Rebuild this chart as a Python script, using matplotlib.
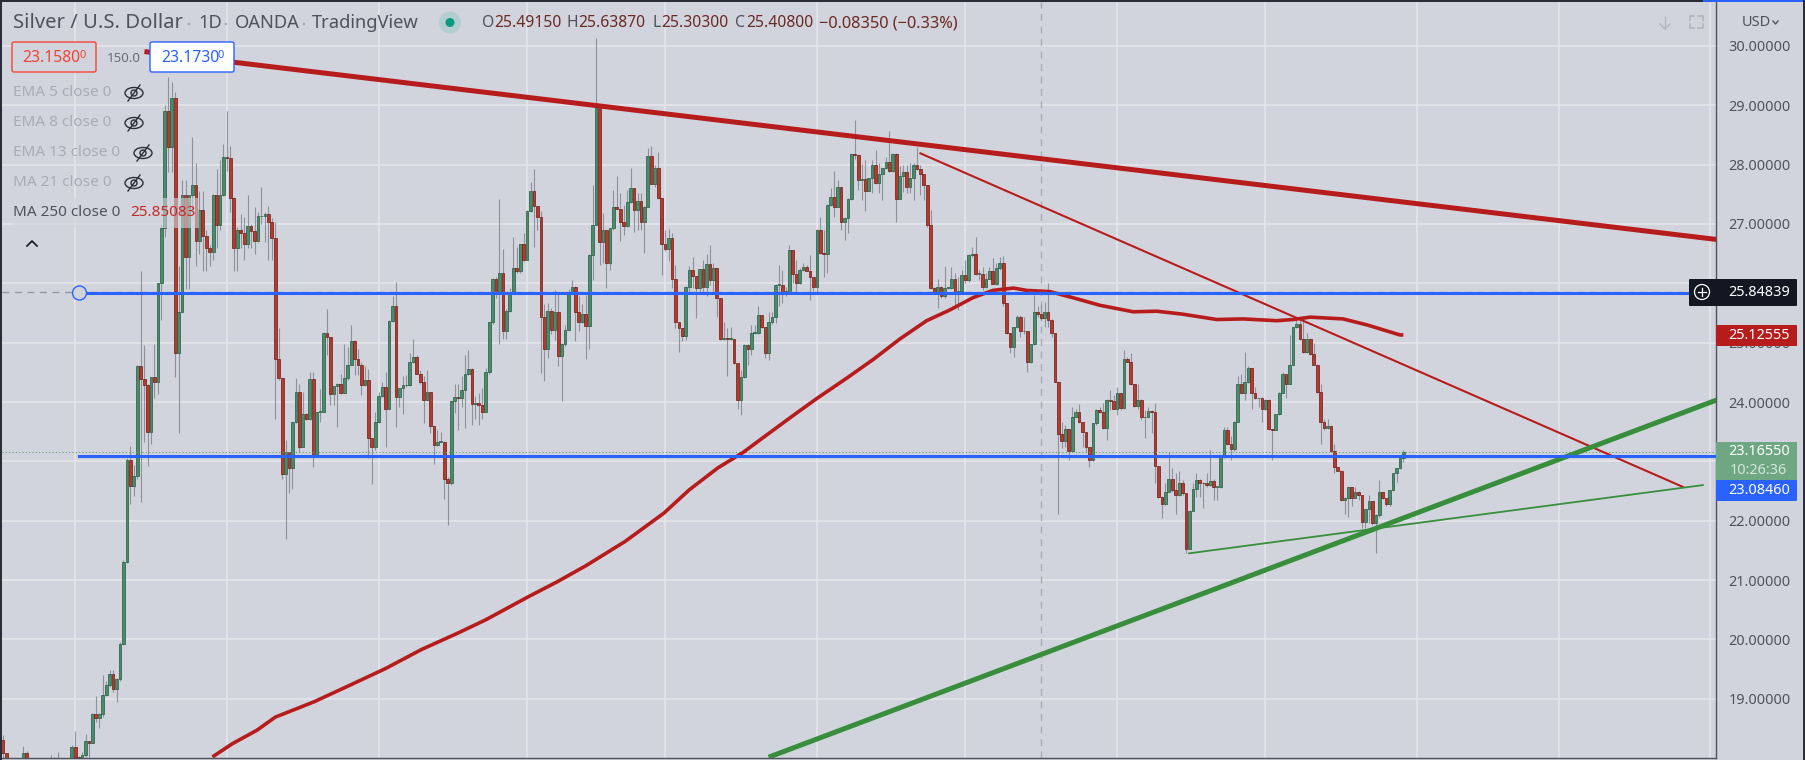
"""Silver / U.S. Dollar daily candles with hand drawn trend lines."""
import matplotlib
matplotlib.use('Agg')
import matplotlib.pyplot as plt
from matplotlib.patches import Circle, Ellipse, FancyBboxPatch, Rectangle

plt.rcParams['font.family'] = ['Noto Sans', 'DejaVu Sans']

first_open = 18.30
closes = [
    18.08, 18.01, 17.9, 17.9, 17.85, 17.95, 18.08, 17.95, 17.9, 17.85,
    17.8, 17.85, 17.9, 17.85, 17.9, 17.92, 17.95, 17.9, 17.85, 17.95,
    18.19, 18.02, 18.01, 18.05, 18.28, 18.26, 18.74, 18.67, 18.74, 19.07,
    19.23, 19.41, 19.17, 19.33, 19.92, 21.30, 23.02, 22.59, 22.76, 24.60,
    24.38, 24.28, 23.49, 24.42, 24.33, 26.00, 26.93, 28.90, 28.30, 29.13,
    24.82, 25.52, 27.48, 26.44, 27.48, 27.66, 26.71, 27.23, 26.79, 26.60,
    26.52, 27.48, 26.99, 27.49, 28.13, 28.11, 27.43, 26.60, 26.90, 26.85,
    26.67, 26.97, 26.88, 26.72, 27.13, 27.14, 27.16, 27.03, 26.77, 24.72,
    24.40, 22.78, 23.15, 22.88, 23.67, 24.17, 23.24, 23.79, 23.72, 24.38,
    23.07, 23.83, 23.84, 25.16, 25.10, 24.13, 24.27, 24.30, 24.16, 24.40,
    24.63, 25.03, 24.72, 24.62, 24.28, 24.37, 23.39, 23.25, 23.66, 24.10,
    24.25, 23.89, 25.36, 25.62, 24.08, 24.23, 24.28, 24.28, 24.67, 24.76,
    24.48, 24.33, 24.04, 24.17, 23.60, 23.27, 23.33, 23.33, 22.70, 22.63,
    24.01, 24.09, 24.06, 24.20, 24.48, 24.55, 23.97, 23.99, 23.95, 23.83,
    24.50, 25.34, 26.07, 25.86, 26.17, 25.19, 25.54, 25.86, 26.25, 26.20,
    26.67, 26.40, 27.22, 27.55, 27.30, 27.12, 25.44, 24.90, 25.54, 25.21,
    25.51, 24.78, 24.97, 25.22, 25.86, 25.94, 25.51, 25.34, 25.48, 25.28,
    26.47, 26.99, 29.02, 26.69, 26.90, 26.35, 26.93, 27.28, 27.26, 27.03,
    26.97, 27.37, 27.60, 27.23, 27.38, 27.03, 27.29, 28.15, 27.68, 27.94,
    27.43, 26.67, 26.57, 26.76, 26.08, 25.35, 25.24, 25.12, 25.94, 26.22,
    26.13, 25.92, 26.24, 25.94, 26.32, 26.06, 26.25, 25.75, 25.06, 25.08,
    25.06, 25.06, 24.65, 24.03, 24.42, 24.96, 24.89, 25.16, 25.16, 25.47,
    25.26, 24.82, 25.34, 25.43, 25.97, 25.97, 25.86, 25.86, 26.56, 26.15,
    26.00, 26.22, 26.27, 26.21, 26.10, 25.93, 26.90, 26.51, 26.49, 27.32,
    27.45, 27.29, 27.62, 27.03, 27.10, 27.42, 28.18, 28.17, 27.74, 27.75,
    27.56, 27.77, 27.99, 27.69, 27.84, 27.94, 28.04, 27.89, 28.18, 27.42,
    27.80, 27.88, 27.62, 27.77, 27.99, 27.92, 27.85, 27.66, 26.98, 25.92,
    25.86, 25.94, 25.78, 25.92, 25.92, 26.08, 25.86, 25.87, 26.14, 26.06,
    26.48, 26.49, 26.16, 26.16, 25.93, 26.08, 26.20, 25.99, 26.25, 26.34,
    25.67, 25.17, 24.93, 25.26, 25.43, 25.19, 25.19, 24.68, 24.97, 25.51,
    25.48, 25.41, 25.52, 25.39, 25.16, 24.34, 23.46, 23.35, 23.54, 23.18,
    23.75, 23.84, 23.66, 23.50, 23.25, 23.03, 23.64, 23.87, 23.84, 23.56,
    24.03, 24.02, 23.89, 24.15, 23.90, 24.72, 24.68, 24.31, 23.94, 24.04,
    23.74, 23.74, 23.85, 23.84, 22.92, 22.40, 22.28, 22.49, 22.70, 22.51,
    22.43, 22.63, 22.46, 21.53, 22.17, 22.54, 22.69, 22.63, 22.63, 22.60,
    22.67, 22.57, 22.57, 23.08, 23.53, 23.30, 23.20, 23.67, 24.30, 24.16,
    24.33, 24.57, 24.16, 24.06, 24.06, 23.89, 24.04, 23.54, 23.53, 23.79,
    24.16, 24.47, 24.31, 24.63, 25.26, 25.31, 25.07, 24.84, 25.07, 24.81,
    24.63, 24.17, 23.66, 23.56, 23.60, 23.17, 22.90, 22.84, 22.35, 22.39,
    22.56, 22.39, 22.49, 22.43, 21.97, 22.19, 22.33, 21.96, 22.10, 22.48,
    22.38, 22.28, 22.51, 22.80, 22.88, 23.06, 23.16,
]
highs = [
    18.39, 18.09, 17.95, 17.95, 17.95, 17.97, 18.20, 18.12, 17.95, 17.9,
    17.85, 17.9, 17.95, 17.9, 18.05, 18.02, 18.10, 17.95, 17.9, 17.97,
    18.22, 18.46, 18.03, 18.10, 18.40, 18.28, 18.76, 19.05, 18.76, 19.40,
    19.30, 19.48, 19.48, 19.35, 19.95, 21.33, 23.05, 23.26, 22.94, 24.62,
    26.21, 24.96, 24.30, 24.42, 24.98, 26.00, 27.00, 29.00, 29.48, 29.39,
    29.23, 26.29, 27.74, 27.74, 27.48, 28.46, 28.02, 27.56, 27.56, 26.90,
    26.65, 27.50, 27.93, 28.07, 28.35, 28.90, 28.31, 27.45, 26.95, 27.17,
    27.12, 27.48, 27.00, 27.29, 27.20, 27.62, 27.20, 27.31, 27.10, 27.04,
    25.24, 24.42, 23.36, 23.15, 23.67, 24.40, 24.31, 24.17, 23.82, 24.51,
    24.51, 23.84, 24.22, 25.18, 25.56, 25.10, 24.27, 24.32, 24.48, 24.98,
    24.92, 25.30, 25.05, 24.90, 24.68, 24.61, 24.56, 23.40, 23.84, 24.17,
    24.34, 24.50, 25.38, 25.79, 26.03, 24.24, 24.43, 24.46, 24.82, 25.07,
    24.79, 24.54, 24.43, 24.54, 24.17, 23.62, 23.53, 23.50, 23.34, 22.74,
    24.02, 24.31, 24.31, 24.43, 24.79, 24.87, 24.57, 24.10, 24.15, 24.23,
    24.57, 25.35, 26.09, 26.10, 27.42, 26.58, 25.56, 25.92, 26.78, 26.62,
    26.67, 26.84, 27.23, 27.70, 27.92, 27.30, 27.22, 25.65, 25.66, 25.58,
    25.89, 25.83, 25.00, 25.30, 25.90, 26.06, 25.95, 25.78, 25.65, 25.80,
    26.50, 27.66, 30.13, 29.02, 27.19, 26.90, 26.93, 27.58, 27.80, 27.53,
    27.32, 27.57, 27.95, 27.60, 27.52, 27.52, 27.30, 28.28, 28.32, 27.99,
    28.22, 27.43, 26.90, 26.91, 26.84, 26.31, 25.35, 25.24, 25.95, 26.29,
    26.45, 26.13, 26.24, 26.39, 26.49, 26.65, 26.34, 26.25, 25.75, 25.35,
    25.24, 25.27, 25.06, 24.65, 24.54, 24.97, 24.97, 25.30, 25.30, 25.62,
    25.47, 25.26, 25.52, 25.52, 25.98, 26.31, 26.22, 25.94, 26.65, 26.56,
    26.39, 26.25, 26.34, 26.31, 26.48, 26.11, 26.91, 27.12, 26.90, 27.33,
    27.60, 27.90, 27.74, 27.63, 27.11, 27.43, 28.20, 28.75, 28.18, 28.01,
    28.08, 27.78, 28.08, 28.24, 28.02, 27.95, 28.13, 28.57, 28.19, 28.19,
    27.97, 27.99, 27.99, 28.02, 28.02, 28.29, 27.99, 27.85, 27.66, 27.24,
    25.93, 26.08, 25.95, 26.29, 25.93, 26.28, 26.17, 26.10, 26.22, 26.40,
    26.50, 26.62, 26.78, 26.22, 26.28, 26.17, 26.28, 26.42, 26.34, 26.45,
    26.46, 25.67, 25.17, 25.27, 25.47, 25.47, 25.44, 25.19, 24.98, 25.80,
    25.61, 25.63, 25.69, 26.00, 25.40, 25.16, 24.35, 23.67, 23.61, 23.54,
    23.92, 23.89, 23.97, 23.66, 23.50, 23.25, 23.65, 23.88, 23.92, 23.98,
    24.05, 24.21, 24.12, 24.26, 24.15, 24.88, 24.76, 24.83, 24.31, 24.30,
    24.05, 23.87, 23.92, 23.86, 23.98, 22.93, 22.41, 22.63, 23.16, 22.88,
    22.80, 22.83, 22.69, 22.47, 22.18, 22.63, 22.80, 22.71, 22.66, 22.80,
    23.19, 22.71, 22.58, 23.09, 23.58, 23.58, 23.42, 23.68, 24.43, 24.48,
    24.85, 24.61, 24.58, 24.26, 24.07, 24.09, 24.05, 24.05, 23.55, 23.80,
    24.17, 24.51, 24.48, 25.13, 25.27, 25.43, 25.41, 25.43, 25.16, 25.08,
    24.99, 24.64, 24.31, 23.72, 23.72, 23.61, 23.30, 22.90, 22.85, 22.40,
    22.57, 22.57, 22.57, 22.50, 22.43, 22.20, 22.43, 22.34, 22.11, 22.69,
    22.49, 22.39, 22.52, 22.81, 22.89, 23.08, 23.19,
]
lows = [
    18.0, 17.9, 17.8, 17.8, 17.8, 17.85, 17.9, 17.85, 17.8, 17.8,
    17.7, 17.8, 17.8, 17.8, 17.8, 17.85, 17.85, 17.8, 17.8, 17.9,
    17.9, 18.0, 18.0, 18.0, 18.02, 18.02, 18.26, 18.60, 18.51, 18.70,
    19.05, 19.20, 19.12, 18.95, 19.30, 19.90, 21.28, 22.28, 22.42, 22.70,
    22.32, 23.33, 22.93, 23.29, 24.06, 24.13, 25.38, 26.78, 27.88, 27.88,
    24.42, 23.47, 25.78, 25.90, 25.90, 27.20, 26.30, 26.50, 26.20, 26.20,
    26.30, 26.39, 26.60, 26.90, 27.47, 27.90, 27.20, 26.20, 26.20, 26.60,
    26.40, 26.60, 26.60, 26.50, 26.70, 27.00, 26.70, 26.40, 26.40, 23.72,
    24.37, 22.70, 21.69, 22.46, 22.54, 23.65, 23.15, 23.24, 23.70, 23.69,
    22.90, 23.07, 23.67, 23.84, 24.79, 23.95, 23.95, 23.58, 24.14, 24.16,
    24.37, 24.62, 24.45, 24.45, 24.12, 24.27, 23.05, 22.61, 23.19, 23.65,
    24.08, 23.25, 23.88, 25.35, 23.58, 23.92, 23.79, 24.26, 24.27, 24.65,
    24.47, 24.31, 23.65, 24.02, 23.47, 22.95, 23.26, 23.32, 22.36, 21.92,
    22.60, 23.81, 23.53, 23.92, 23.56, 24.45, 23.61, 23.72, 23.61, 23.72,
    23.83, 24.48, 25.32, 25.75, 24.97, 25.07, 25.07, 25.52, 25.83, 26.18,
    26.18, 26.38, 26.39, 27.20, 26.62, 26.90, 24.49, 24.36, 24.74, 25.15,
    25.04, 24.61, 24.02, 24.95, 25.21, 25.83, 25.02, 25.19, 25.33, 24.72,
    24.89, 26.06, 26.98, 26.31, 26.34, 25.92, 26.22, 26.90, 27.25, 26.72,
    26.81, 26.95, 27.36, 26.87, 26.90, 26.90, 26.51, 27.28, 27.67, 27.63,
    27.42, 26.14, 26.55, 26.37, 25.92, 25.25, 24.85, 25.02, 25.04, 25.83,
    25.92, 25.41, 25.83, 25.83, 25.78, 25.97, 25.86, 25.44, 25.04, 25.05,
    24.43, 25.04, 24.64, 23.89, 23.78, 24.41, 24.62, 24.79, 25.15, 25.15,
    25.25, 24.74, 24.70, 25.32, 25.33, 25.61, 25.66, 25.78, 25.85, 26.00,
    25.86, 25.99, 26.20, 26.20, 25.72, 25.86, 25.83, 26.50, 26.11, 26.17,
    27.30, 27.12, 27.28, 26.90, 26.73, 26.84, 27.40, 28.10, 27.57, 27.40,
    27.21, 27.55, 27.52, 27.68, 27.52, 27.40, 27.92, 27.88, 27.87, 27.04,
    27.43, 27.54, 27.52, 27.52, 27.40, 27.91, 27.49, 27.40, 26.95, 25.90,
    25.82, 25.58, 25.75, 25.75, 25.90, 25.91, 25.58, 25.55, 25.86, 26.01,
    26.02, 26.45, 26.14, 26.06, 25.89, 25.92, 26.07, 25.98, 25.97, 26.23,
    25.61, 25.15, 24.83, 24.76, 25.25, 25.10, 25.15, 24.51, 24.65, 24.96,
    25.43, 25.38, 25.27, 25.27, 25.10, 24.33, 22.12, 23.22, 23.25, 23.02,
    23.17, 23.74, 23.65, 23.25, 23.16, 22.90, 23.00, 23.62, 23.82, 23.55,
    23.36, 23.87, 23.88, 23.78, 23.87, 23.89, 24.67, 24.29, 23.92, 23.89,
    23.70, 23.40, 23.73, 23.47, 22.63, 22.39, 22.05, 22.27, 22.48, 22.49,
    22.12, 22.42, 22.44, 21.45, 21.52, 22.16, 22.40, 22.40, 22.21, 22.57,
    22.59, 22.35, 22.35, 22.55, 23.05, 23.29, 23.02, 23.18, 23.66, 24.15,
    24.03, 24.32, 23.89, 24.05, 23.92, 23.67, 23.87, 23.53, 23.02, 23.52,
    23.78, 24.15, 24.06, 24.30, 24.62, 25.25, 25.05, 24.83, 24.82, 24.79,
    24.62, 24.15, 23.30, 23.53, 23.55, 23.16, 22.80, 22.83, 22.34, 22.12,
    22.07, 22.24, 22.38, 22.35, 21.87, 21.87, 21.96, 21.93, 21.45, 22.07,
    22.37, 22.24, 22.24, 22.50, 22.66, 22.87, 22.99,
]

# MA 250, bar number and value
ma_bars = [60.8, 66.5, 73.7, 79, 90.3, 100.7, 111, 121.4, 131.7, 140, 152.4, 160.7,
           169, 180.4, 191.7, 199, 207.3, 214.6, 220.4, 230, 236, 244.6, 252.4, 260,
           267.8, 274.5, 281.3, 287, 293, 296.8, 303.6, 311.3, 318, 327.7, 334.5,
           342, 351.9, 359.5, 369.3, 374, 379, 388.5, 395.4, 405, 406]
ma_values = [18.02, 18.24, 18.47, 18.69, 18.95, 19.23, 19.51, 19.83, 20.10, 20.33,
             20.72, 20.97, 21.24, 21.65, 22.13, 22.52, 22.89, 23.15, 23.40, 23.81,
             24.06, 24.40, 24.72, 25.06, 25.37, 25.55, 25.76, 25.88, 25.92, 25.88,
             25.86, 25.74, 25.63, 25.52, 25.53, 25.48, 25.39, 25.40, 25.37, 25.39,
             25.43, 25.40, 25.30, 25.13, 25.13]

# drawings: (bar, price) ends
red_thick_bars, red_thick_prices = [41.8, 496.6], [29.90, 26.74]
red_thin_bars, red_thin_prices = [266, 487], [28.19, 22.57]
green_thick_bars, green_thick_prices = [222.7, 496.6], [18.03, 24.03]
green_thin_bars, green_thin_prices = [343.9, 492.8], [21.45, 22.60]
blue_upper_start, blue_upper_price = 22.2, 25.83
blue_lower_start, blue_lower_price = 22.2, 23.09
crosshair_bar, crosshair_price = 301, 25.84839
last_price = 23.1655

price_ticks = [19, 20, 21, 22, 23, 24, 25, 26, 27, 28, 29, 30]
time_grid_bars = [21.1, 65, 109, 152, 192, 236, 279, 323, 366, 410, 451, 495]

BG = '#d1d4dc'
GRID = '#e5e7ec'
RED = '#b71c1c'
GREEN = '#388e3c'
BLUE = '#2962ff'
TEXT = '#50535e'
W, H = 1805, 760
LEFT, RIGHT, TOP, BOTTOM = 2, 1716, 2, 757.5
BAR_PX = 3.45
BAR0_PX = 2.7


def draw_candles(ax):
    opens = [first_open] + closes[:-1]
    bars = list(range(len(closes)))
    ax.vlines(bars, lows, highs, color='#7d808a', linewidth=0.8, alpha=0.8, zorder=2)
    for i, (o, c) in enumerate(zip(opens, closes)):
        up = c >= o
        face = '#4b8a6c' if up else '#b23a2e'
        edge = '#2a6346' if up else '#7a211a'
        ax.add_patch(Rectangle((i - 0.4, min(o, c)), 0.8, max(abs(c - o), 0.012),
                               facecolor=face, edgecolor=edge, linewidth=0.55, zorder=3))


def draw_lines(ax):
    ax.plot(ma_bars, ma_values, color=RED, linewidth=2.6, zorder=5, solid_capstyle='butt')
    ax.plot(red_thick_bars, red_thick_prices, color=RED, linewidth=3.6, zorder=5)
    ax.plot(red_thin_bars, red_thin_prices, color=RED, linewidth=1.5, zorder=5)
    ax.plot(green_thick_bars, green_thick_prices, color=GREEN, linewidth=3.6, zorder=5)
    ax.plot(green_thin_bars, green_thin_prices, color=GREEN, linewidth=1.3, zorder=5)
    xmax = ax.get_xlim()[1]
    ax.plot([blue_upper_start, xmax], [blue_upper_price] * 2, color=BLUE, linewidth=2.2, zorder=6)
    ax.plot([blue_lower_start, xmax], [blue_lower_price] * 2, color=BLUE, linewidth=2.2, zorder=6)
    ax.axhline(crosshair_price, color='#9598a1', linewidth=1, linestyle=(0, (5, 4)), zorder=5.5)
    ax.axvline(crosshair_bar, color='#a9acb4', linewidth=1, linestyle=(0, (5, 4)), zorder=1.5)
    ax.axhline(last_price, color='#5f9c80', linewidth=0.8, linestyle=(0, (1, 2)), zorder=4)


def eye_off(ov, x, y):
    ov.add_patch(Ellipse((x, y), 18, 11, fill=False, edgecolor='#2a2e39', linewidth=1))
    ov.add_patch(Ellipse((x, y), 6, 6, fill=False, edgecolor='#2a2e39', linewidth=1))
    ov.plot([x - 6, x + 6], [y + 8, y - 8], color='#2a2e39', linewidth=1)


def tag(ov, x0, x1, y0, y1, color):
    ov.add_patch(FancyBboxPatch((x0 + 1, y0 + 1), x1 - x0 - 2, y1 - y0 - 2,
                                boxstyle='round,pad=1', facecolor=color, edgecolor='none', zorder=3))


def draw_overlay(fig):
    ov = fig.add_axes([0, 0, 1, 1], zorder=10)
    ov.set_xlim(0, W)
    ov.set_ylim(H, 0)
    ov.axis('off')
    ov.patch.set_alpha(0)

    # window edges
    ov.add_patch(Rectangle((0, 0), W, 2, facecolor='#2a2e39', edgecolor='none'))
    ov.add_patch(Rectangle((0, 0), 2, H, facecolor='#2a2e39', edgecolor='none'))
    ov.add_patch(Rectangle((1803, 0), 2, H, facecolor='#2a2e39', edgecolor='none'))
    ov.add_patch(Rectangle((1703, 0), 100, 1.5, facecolor=BLUE, edgecolor='none'))

    # header
    ov.text(13, 23, 'Silver / U.S. Dollar', fontsize=14.6, color=TEXT, va='center')
    ov.text(198, 23, '1D', fontsize=13.2, color=TEXT, va='center')
    ov.text(235, 23, 'OANDA', fontsize=13.2, color=TEXT, va='center')
    ov.text(312, 23, 'TradingView', fontsize=13.2, color=TEXT, va='center')
    for x in [189, 226, 304]:
        ov.add_patch(Circle((x, 24), 1.2, facecolor='#a0a3ad', edgecolor='none'))
    ov.add_patch(Circle((450, 22.5), 11, facecolor='#b4cdd0', edgecolor='none'))
    ov.add_patch(Circle((450, 22.5), 4.5, facecolor='#089981', edgecolor='none'))
    for x, name, value in [(482, 'O', '25.49150'), (567, 'H', '25.63870'),
                           (652, 'L', '25.30300'), (735, 'C', '25.40800')]:
        ov.text(x, 23, name, fontsize=11.3, color=TEXT, va='center')
        ov.text(x + {'O': 12, 'H': 11.5, 'L': 9, 'C': 11}[name], 23, value, fontsize=11.3,
                color='#6b2a26', va='center')
    ov.text(819, 23, '\u22120.08350 (\u22120.33%)', fontsize=11.8, color='#6b2a26', va='center')

    # order boxes
    ov.add_patch(FancyBboxPatch((14, 44), 80, 26, boxstyle='round,pad=2', facecolor=BG,
                                edgecolor='#f44336', linewidth=1))
    ov.text(22, 58, '23.1580', fontsize=11.3, color='#f44336', va='center')
    ov.text(79, 55, '0', fontsize=8, color='#f44336', va='center')
    ov.text(107, 58, '150.0', fontsize=9.5, color='#6a6d78', va='center')
    ov.add_patch(FancyBboxPatch((152, 44), 80, 26, boxstyle='round,pad=2', facecolor='white',
                                edgecolor=BLUE, linewidth=1, zorder=3))
    ov.text(161, 58, '23.1730', fontsize=11.3, color=BLUE, va='center', zorder=4)
    ov.text(218, 55, '0', fontsize=8, color=BLUE, va='center', zorder=4)

    # indicator legend
    ov.add_patch(Rectangle((13, 198), 186, 30, facecolor=BG, alpha=0.6, edgecolor='none'))
    for y, label, eye_x in [(93, 'EMA 5 close 0', 134), (123, 'EMA 8 close 0', 134),
                            (153, 'EMA 13 close 0', 143), (183, 'MA 21 close 0', 134)]:
        ov.text(13, y, label, fontsize=11, color='#a9acb5', va='center')
        eye_off(ov, eye_x, y)
    ov.text(13, 213, 'MA 250 close 0', fontsize=11, color=TEXT, va='center')
    ov.text(130, 213, '25.85083', fontsize=11, color='#c62828', va='center')
    ov.plot([27, 32, 37], [246, 241, 246], color='#131722', linewidth=1.2)

    # line anchor
    ov.add_patch(Circle((79.5, 293), 7, facecolor=BG, edgecolor=BLUE, linewidth=1))

    # top right icons
    ov.plot([1665, 1665], [17, 29], color='#b2b5be', linewidth=1)
    ov.plot([1660, 1665, 1670], [24, 29, 24], color='#b2b5be', linewidth=1)
    for xs, ys in [([1690, 1690, 1694], [20, 16, 16]), ([1698, 1703, 1703], [16, 16, 20]),
                   ([1690, 1690, 1694], [24, 28, 28]), ([1698, 1703, 1703], [28, 28, 24])]:
        ov.plot(xs, ys, color='#b2b5be', linewidth=1.2)
    ov.text(1742, 22, 'USD', fontsize=10.5, color=TEXT, va='center')
    ov.plot([1773, 1775.5, 1778], [21, 24, 21], color=TEXT, linewidth=1)

    # price tags
    tag(ov, 1689, 1797, 279, 306, '#131722')
    ov.text(1790, 292, '25.84839', fontsize=10.4, color='white', ha='right', va='center', zorder=4)
    ov.add_patch(Circle((1702, 292), 7.5, facecolor='none', edgecolor='white', linewidth=0.9, zorder=4))
    ov.plot([1698, 1706], [292, 292], color='white', linewidth=0.9, zorder=4)
    ov.plot([1702, 1702], [288, 296], color='white', linewidth=0.9, zorder=4)
    tag(ov, 1716, 1797, 325, 346, RED)
    ov.text(1790, 335.5, '25.12555', fontsize=10.4, color='white', ha='right', va='center', zorder=4)
    tag(ov, 1716, 1797, 442, 481, '#6fa783')
    ov.text(1790, 451.5, '23.16550', fontsize=10.4, color='white', ha='right', va='center', zorder=4)
    ov.text(1787, 470, '10:26:36', fontsize=10.4, color='#d5e6da', ha='right', va='center', zorder=4)
    tag(ov, 1716, 1797, 480, 501, BLUE)
    ov.text(1790, 490.5, '23.08460', fontsize=10.4, color='white', ha='right', va='center', zorder=4)


def main():
    fig = plt.figure(figsize=(W / 100, H / 100), dpi=100, facecolor=BG)
    ax = fig.add_axes([LEFT / W, 1 - BOTTOM / H, (RIGHT - LEFT) / W, (BOTTOM - TOP) / H],
                      facecolor=BG, zorder=1)
    ax.set_xlim((LEFT - BAR0_PX) / BAR_PX, (RIGHT - BAR0_PX) / BAR_PX)
    ax.set_ylim(18.01, 30.74)

    ax.set_xticks(time_grid_bars)
    ax.tick_params(axis='x', length=0, labelbottom=False)
    ax.yaxis.tick_right()
    ax.set_yticks(price_ticks)
    ax.set_yticklabels([f'{p:.5f}' for p in price_ticks], fontsize=10.4, color=TEXT)
    ax.tick_params(axis='y', length=0, pad=9)
    ax.grid(True, color=GRID, linewidth=1.1, zorder=0)
    ax.set_axisbelow(True)
    for side in ['top', 'left']:
        ax.spines[side].set_visible(False)
    for side in ['right', 'bottom']:
        ax.spines[side].set_color(TEXT)
        ax.spines[side].set_linewidth(1)

    draw_candles(ax)
    draw_lines(ax)
    draw_overlay(fig)

    fig.savefig('out.png', dpi=100, facecolor=BG)


if __name__ == '__main__':
    main()
